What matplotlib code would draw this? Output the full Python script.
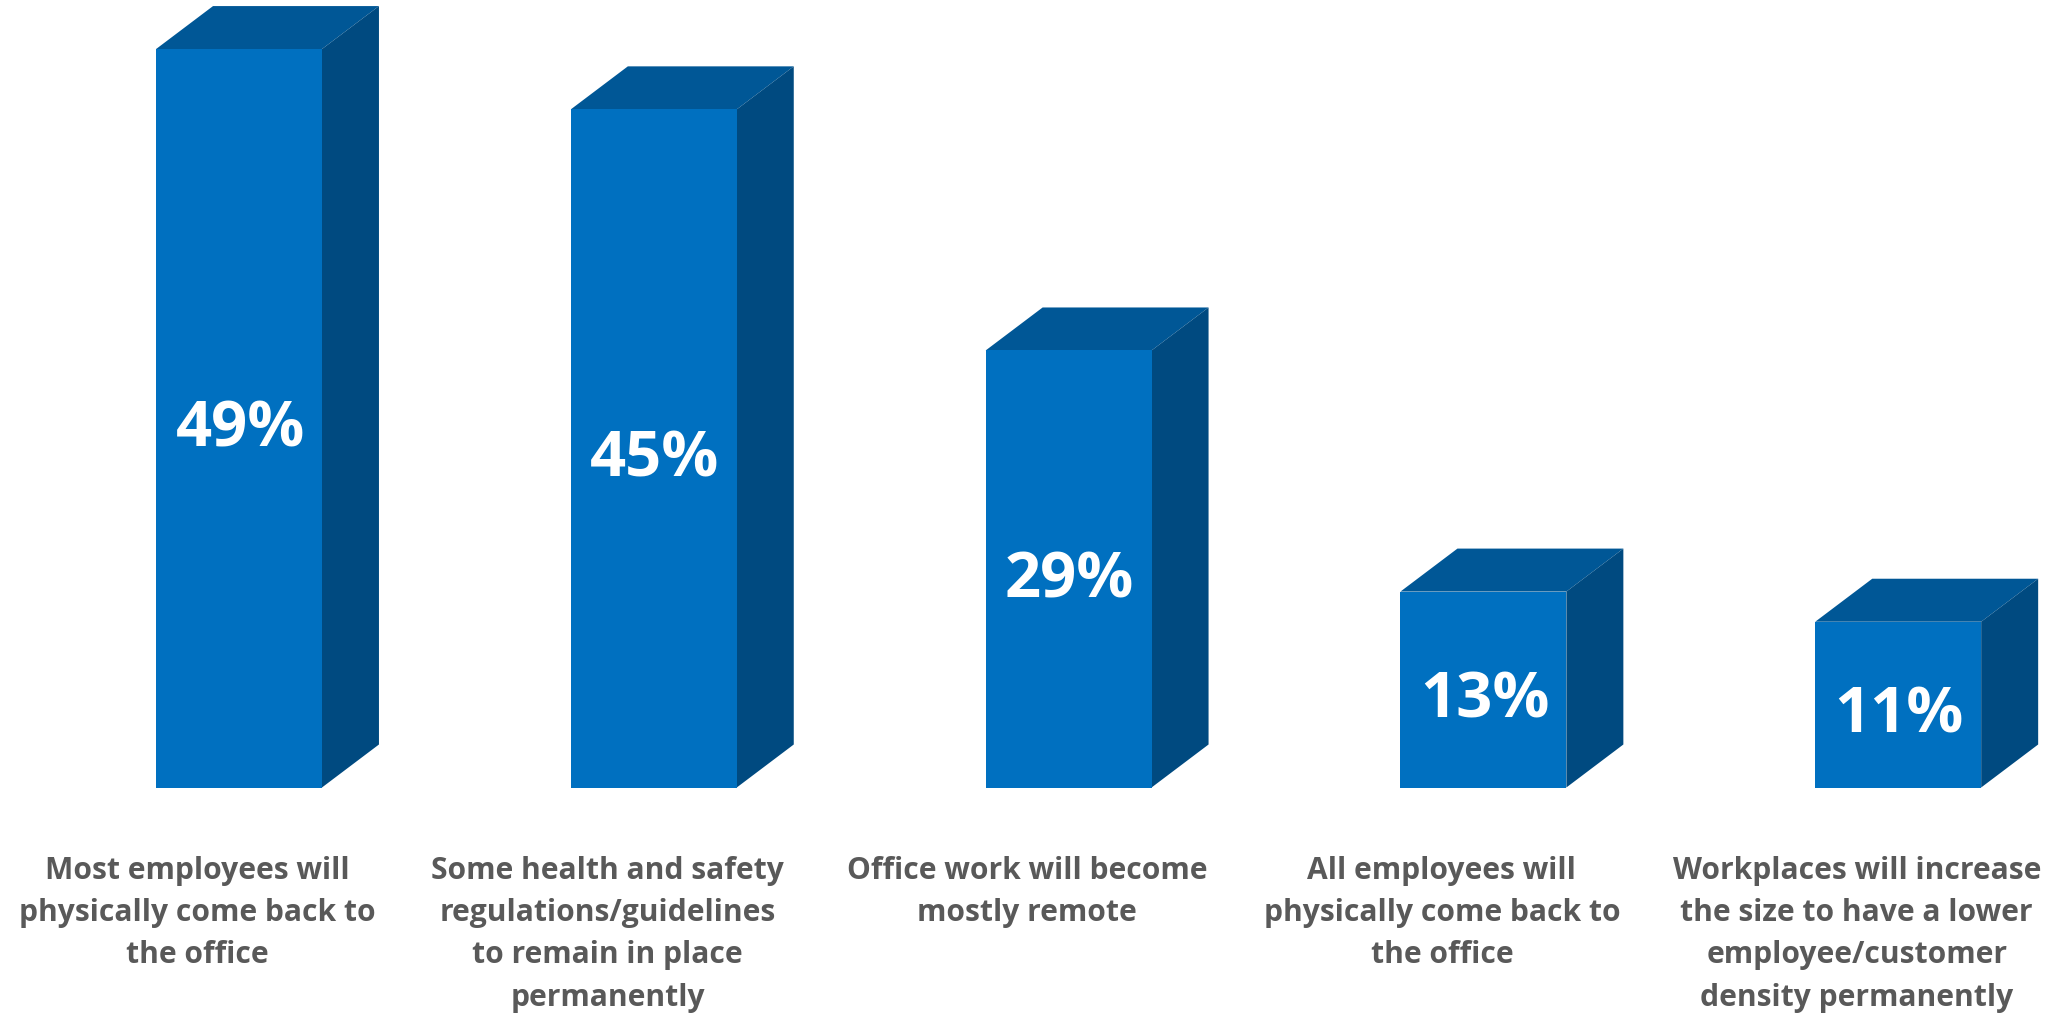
import numpy as np
import matplotlib
matplotlib.use('Agg')
import matplotlib.pyplot as plt
from matplotlib.patches import Polygon

# data to plot
categories = [
    'Most employees will\nphysically come back to\nthe office',
    'Some health and safety\nregulations/guidelines\nto remain in place\npermanently',
    'Office work will become\nmostly remote',
    'All employees will\nphysically come back to\nthe office',
    'Workplaces will increase\nthe size to have a lower\nemployee/customer\ndensity permanently',
]
values = [49, 45, 29, 13, 11]

plt.rcParams['font.family'] = ['Open Sans', 'DejaVu Sans']

W, H = 2060, 1013
base_px = 787.5       # pixel row of the bar feet
per_pct = 15.07       # pixels per percent
spacing = 414.8       # pixels between bars
first = 239.0         # pixel column of first bar centre

fig = plt.figure(figsize=(W / 100, H / 100), dpi=100)
ax = fig.add_axes([0, (H - base_px) / H, 1, base_px / H])
ax.set_xlim(-first / spacing, (W - first) / spacing)
ax.set_ylim(0, base_px / per_pct)

index = np.arange(len(values))
bar_width = 0.4
depth_x = 57 / spacing
depth_y = 43 / per_pct

ax.bar(index, values, bar_width, color='#0070c0', linewidth=0, zorder=3)

for i, v in zip(index, values):
    r = i + bar_width / 2
    l = i - bar_width / 2
    # top face
    ax.add_patch(Polygon([(l, v), (r, v), (r + depth_x, v + depth_y), (l + depth_x, v + depth_y)],
                         closed=True, facecolor='#005796', edgecolor='none', zorder=2))
    # side face
    ax.add_patch(Polygon([(r, 0), (r + depth_x, depth_y), (r + depth_x, v + depth_y), (r, v)],
                         closed=True, facecolor='#004a80', edgecolor='none', zorder=2))
    ax.annotate('%d%%' % v, (i, v / 2), xytext=(0.8, -8.5), textcoords='offset points',
                ha='center', va='center', color='white',
                fontsize=45.5, fontweight='bold', zorder=4)

# labels sit a bit left of the bar fronts
ax.set_xticks(index - np.array([0.1, 0.111, 0.1, 0.1, 0.1]))
ax.set_xticklabels(categories, fontsize=21.6, fontweight='bold', color='#595959',
                   linespacing=1.54, ha='center', va='top')
ax.tick_params(axis='x', length=0, pad=49)
ax.set_yticks([])
for s in ax.spines.values():
    s.set_visible(False)
ax.patch.set_alpha(0)

fig.savefig('out.png', dpi=100, facecolor='white')
